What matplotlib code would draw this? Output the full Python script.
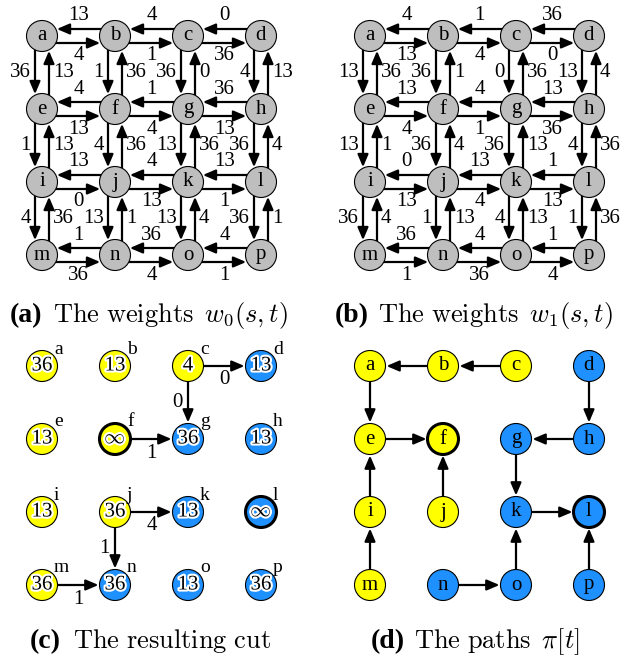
import math

import matplotlib
matplotlib.use("Agg")
import matplotlib.pyplot as plt
import matplotlib.patheffects as pe
from matplotlib.patches import Circle, FancyArrowPatch

plt.rcParams["mathtext.fontset"] = "cm"
SERIF = "Liberation Serif"

NODES = list("abcdefghijklmnop")

# (source, target, weight) for panel (a)
W0_EDGES = [
    ("b", "a", 13), ("a", "b", 4), ("c", "b", 4), ("b", "c", 1), ("d", "c", 0), ("c", "d", 36),
    ("f", "e", 4), ("e", "f", 13), ("g", "f", 1), ("f", "g", 4), ("h", "g", 36), ("g", "h", 13),
    ("j", "i", 13), ("i", "j", 0), ("k", "j", 4), ("j", "k", 13), ("l", "k", 13), ("k", "l", 1),
    ("n", "m", 1), ("m", "n", 36), ("o", "n", 36), ("n", "o", 4), ("p", "o", 4), ("o", "p", 1),
    ("a", "e", 36), ("e", "a", 13), ("e", "i", 1), ("i", "e", 13), ("i", "m", 4), ("m", "i", 36),
    ("b", "f", 1), ("f", "b", 36), ("f", "j", 4), ("j", "f", 36), ("j", "n", 13), ("n", "j", 1),
    ("c", "g", 36), ("g", "c", 0), ("g", "k", 13), ("k", "g", 36), ("k", "o", 13), ("o", "k", 4),
    ("d", "h", 4), ("h", "d", 13), ("h", "l", 36), ("l", "h", 4), ("l", "p", 36), ("p", "l", 1),
]
# panel (b)
W1_EDGES = [
    ("b", "a", 4), ("a", "b", 13), ("c", "b", 1), ("b", "c", 4), ("d", "c", 36), ("c", "d", 0),
    ("f", "e", 13), ("e", "f", 4), ("g", "f", 4), ("f", "g", 1), ("h", "g", 13), ("g", "h", 36),
    ("j", "i", 0), ("i", "j", 13), ("k", "j", 13), ("j", "k", 4), ("l", "k", 1), ("k", "l", 13),
    ("n", "m", 36), ("m", "n", 1), ("o", "n", 4), ("n", "o", 36), ("p", "o", 1), ("o", "p", 4),
    ("a", "e", 13), ("e", "a", 36), ("e", "i", 13), ("i", "e", 1), ("i", "m", 36), ("m", "i", 4),
    ("b", "f", 36), ("f", "b", 1), ("f", "j", 36), ("j", "f", 4), ("j", "n", 1), ("n", "j", 13),
    ("c", "g", 0), ("g", "c", 36), ("g", "k", 36), ("k", "g", 13), ("k", "o", 4), ("o", "k", 13),
    ("d", "h", 13), ("h", "d", 4), ("h", "l", 4), ("l", "h", 36), ("l", "p", 1), ("p", "l", 36),
]

# panel (c): value shown in each node, and which side of the cut it is on
CUT_VALUES = ["36", "13", "4", "13", "13", r"$\infty$", "36", "13",
              "13", "36", "13", r"$\infty$", "36", "36", "13", "36"]
CUT_SIDE = ["s", "s", "s", "t", "s", "s", "t", "t",
            "s", "s", "t", "t", "s", "t", "t", "t"]
TERMINALS = ["f", "l"]
CUT_EDGES = [("c", "d", 0), ("c", "g", 0), ("f", "g", 1),
             ("j", "k", 4), ("j", "n", 1), ("m", "n", 1)]

# panel (d): parent pointers
PATH_EDGES = [("b", "a"), ("c", "b"), ("a", "e"), ("e", "f"), ("i", "e"), ("j", "f"),
              ("m", "i"), ("d", "h"), ("h", "g"), ("g", "k"), ("k", "l"), ("o", "k"),
              ("n", "o"), ("p", "l")]

CAPTIONS = [
    ("(a)", r"$\mathrm{The\ weights}\ \, w_0(s,t)$"),
    ("(b)", r"$\mathrm{The\ weights}\ \, w_1(s,t)$"),
    ("(c)", r"$\mathrm{The\ resulting\ cut}$"),
    ("(d)", r"$\mathrm{The\ paths}\ \, \pi[t]$"),
]

SIDE_COLORS = {"s": "#FFFF00", "t": "#1E90FF"}
GRAY = "#BEBEBE"
STEP = 73.0
R = 15.5
OFF = 7.0
ORIGINS = {"a": (42, 36), "b": (370, 36), "c": (42, 366), "d": (370, 366)}


def pos(node, origin):
    i = NODES.index(node)
    return origin[0] + (i % 4) * STEP, origin[1] + (i // 4) * STEP


def arrow(ax, p, q, off=0.0):
    dx, dy = q[0] - p[0], q[1] - p[1]
    L = math.hypot(dx, dy)
    ux, uy = dx / L, dy / L
    nx, ny = -uy, ux          # right-hand side (y axis points down)
    s = math.sqrt(R * R - off * off)
    a = (p[0] + ux * s + nx * off, p[1] + uy * s + ny * off)
    b = (q[0] - ux * (s + 1) + nx * off, q[1] - uy * (s + 1) + ny * off)
    ax.add_patch(FancyArrowPatch(a, b, arrowstyle="-|>,head_length=0.75,head_width=0.32",
                                 mutation_scale=10, lw=1.6, color="k",
                                 shrinkA=0, shrinkB=0, zorder=1))
    return (p[0] + q[0]) / 2, (p[1] + q[1]) / 2, nx, ny


def edge_label(ax, mid, text, off, hgap, vgap):
    mx, my, nx, ny = mid
    if abs(ny) > 0.5:       # horizontal edge -> label above / below
        ax.text(mx, my + ny * (off + vgap), text, ha="center", va="center",
                fontsize=15, family=SERIF)
    else:                   # vertical edge -> label left / right
        ax.text(mx + nx * (off + hgap), my, text, ha="right" if nx < 0 else "left",
                va="center", fontsize=15, family=SERIF)


def node(ax, xy, face, lw=0.8):
    ax.add_patch(Circle(xy, R, facecolor=face, edgecolor="k", lw=lw, zorder=2))


fig = plt.figure(figsize=(6.22, 6.63), dpi=100)
ax = fig.add_axes([0, 0, 1, 1])
ax.set_xlim(0, 622)
ax.set_ylim(663, 0)
ax.axis("off")

# (a) and (b): weight graphs
for key, edges in (("a", W0_EDGES), ("b", W1_EDGES)):
    o = ORIGINS[key]
    for s, t, w in edges:
        mid = arrow(ax, pos(s, o), pos(t, o), OFF)
        edge_label(ax, mid, str(w), OFF, 4, 13)
    for n in NODES:
        x, y = pos(n, o)
        node(ax, (x, y), GRAY)
        ax.text(x, y, n, ha="center", va="center", fontsize=15, family=SERIF, zorder=3)

# (c): the cut
o = ORIGINS["c"]
for s, t, w in CUT_EDGES:
    mid = arrow(ax, pos(s, o), pos(t, o))
    edge_label(ax, mid, str(w), 0, 5, 14)
halo = [pe.withStroke(linewidth=3, foreground="white")]
for n, val, side in zip(NODES, CUT_VALUES, CUT_SIDE):
    x, y = pos(n, o)
    node(ax, (x, y), SIDE_COLORS[side], 2.2 if n in TERMINALS else 0.8)
    ax.text(x, y, val, ha="center", va="center", fontsize=15, family=SERIF,
            path_effects=halo, zorder=3)
    ax.text(x + 12, y - 17, n, ha="left", va="center", fontsize=14, family=SERIF, zorder=3)

# (d): the paths
o = ORIGINS["d"]
for s, t in PATH_EDGES:
    arrow(ax, pos(s, o), pos(t, o))
for n, side in zip(NODES, CUT_SIDE):
    x, y = pos(n, o)
    node(ax, (x, y), SIDE_COLORS[side], 2.2 if n in TERMINALS else 0.8)
    ax.text(x, y, n, ha="center", va="center", fontsize=15, family=SERIF, zorder=3)

# captions
cap_pos = [(10, 322), (335, 322), (30, 648), (371, 648)]
for (tag, rest), (x, y) in zip(CAPTIONS, cap_pos):
    ax.text(x, y, tag, ha="left", va="baseline", fontsize=20, family=SERIF, weight="bold")
    ax.text(x + 43, y, rest, ha="left", va="baseline", fontsize=19)

fig.savefig("out.png", dpi=100)
